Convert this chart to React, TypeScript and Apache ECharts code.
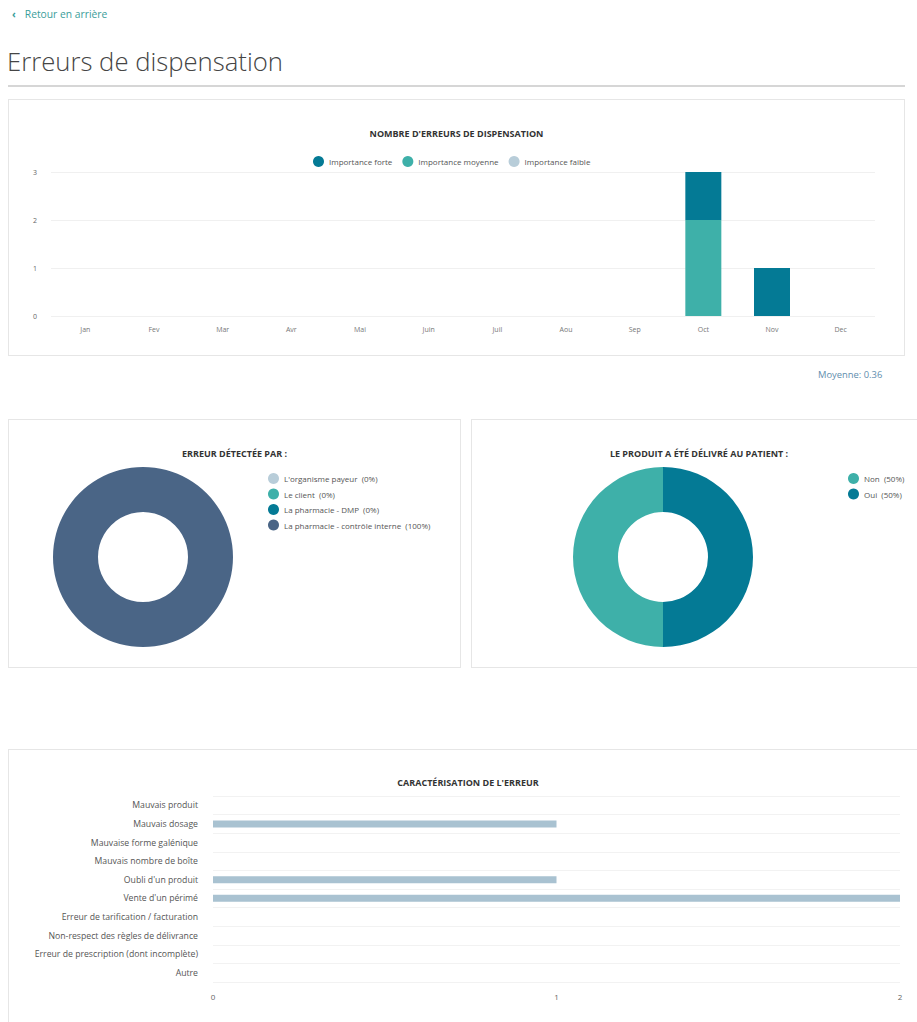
import React, { useEffect, useRef } from "react";
import * as echarts from "echarts";

const months = ["Jan", "Fev", "Mar", "Avr", "Mai", "Juin", "Juil", "Aou", "Sep", "Oct", "Nov", "Dec"];
const forte = [0, 0, 0, 0, 0, 0, 0, 0, 0, 1, 1, 0];
const moyenne = [0, 0, 0, 0, 0, 0, 0, 0, 0, 2, 0, 0];
const faible = [0, 0, 0, 0, 0, 0, 0, 0, 0, 0, 0, 0];
const yTicks = [0, 1, 2, 3];

const detecteurs = ["L'organisme payeur", "Le client", "La pharmacie - DMP", "La pharmacie - contrôle interne"];
const detecteursVals = [0, 0, 0, 1];

const delivre = ["Non", "Oui"];
const delivreVals = [1, 1];

const typesErreur = [
  "Mauvais produit",
  "Mauvais dosage",
  "Mauvaise forme galénique",
  "Mauvais nombre de boîte",
  "Oubli d'un produit",
  "Vente d'un périmé",
  "Erreur de tarification / facturation",
  "Non-respect des règles de délivrance",
  "Erreur de prescription (dont incomplète)",
  "Autre",
];
const typesVals = [0, 1, 0, 0, 1, 2, 0, 0, 0, 0];

const FONT = "'Open Sans', 'Noto Sans', sans-serif";
const C_FORTE = "#047a95";
const C_MOY = "#3eb0a9";
const C_FAIBLE = "#b8cdd9";
const C_SLATE = "#4a6586";

function useChart(option: any) {
  const ref = useRef<HTMLDivElement>(null);
  useEffect(() => {
    if (!ref.current) return;
    const c = echarts.init(ref.current, undefined, { renderer: "svg" });
    c.setOption(option);
    return () => c.dispose();
  }, []);
  return ref;
}

const titleStyle = { fontSize: 9, fontWeight: "bold" as const, color: "#333", fontFamily: FONT };

function BarChart() {
  const ref = useChart({
    animation: false,
    title: { text: "NOMBRE D'ERREURS DE DISPENSATION", left: "center", top: 25, textStyle: titleStyle },
    legend: {
      top: 52,
      left: 300,
      icon: "circle",
      itemWidth: 11,
      itemHeight: 11,
      itemGap: 10,
      textStyle: { fontSize: 8, color: "#555", fontFamily: FONT },
      data: ["Importance forte", "Importance moyenne", "Importance faible"],
    },
    grid: { left: 43, right: 30, top: 73, bottom: 40 },
    xAxis: {
      type: "category",
      data: months,
      axisLine: { show: false },
      axisTick: { show: false },
      axisLabel: { fontSize: 7, color: "#777", margin: 10, fontFamily: FONT },
    },
    yAxis: {
      type: "value",
      min: yTicks[0],
      max: yTicks[yTicks.length - 1],
      interval: 1,
      axisLabel: { fontSize: 7, color: "#666", margin: 14, fontFamily: FONT },
      splitLine: { lineStyle: { color: "#f0f0f0" } },
    },
    series: [
      { name: "Importance faible", type: "bar", stack: "s", data: faible, barWidth: 36, itemStyle: { color: C_FAIBLE } },
      { name: "Importance moyenne", type: "bar", stack: "s", data: moyenne, barWidth: 36, itemStyle: { color: C_MOY } },
      { name: "Importance forte", type: "bar", stack: "s", data: forte, barWidth: 36, itemStyle: { color: C_FORTE } },
    ],
  });
  return <div ref={ref} style={{ width: 897, height: 257 }} />;
}

function pieOption(title: string, names: string[], vals: number[], colors: string[], center: number[], legendLeft: number, clockwise: boolean) {
  const total = vals.reduce((a, b) => a + b, 0);
  return {
    animation: false,
    title: { text: title, left: "center", top: 25, textStyle: titleStyle },
    legend: {
      orient: "vertical",
      left: legendLeft,
      top: 49,
      icon: "circle",
      itemWidth: 11,
      itemHeight: 11,
      itemGap: 4.5,
      textStyle: { fontSize: 8, color: "#555", fontFamily: FONT },
      data: names,
      formatter: (n: string) => {
        const i = names.indexOf(n);
        return `${n}  (${Math.round((vals[i] / total) * 100)}%)`;
      },
    },
    series: [
      {
        type: "pie",
        radius: [45, 90],
        center,
        startAngle: 90,
        clockwise,
        label: { show: false },
        labelLine: { show: false },
        emphasis: { disabled: true },
        data: names.map((n, i) => ({ name: n, value: vals[i], itemStyle: { color: colors[i] } })),
      },
    ],
  };
}

function PieDetecte() {
  const ref = useChart(pieOption("ERREUR DÉTECTÉE PAR :", detecteurs, detecteursVals, [C_FAIBLE, C_MOY, C_FORTE, C_SLATE], [135, 138], 255, true));
  return <div ref={ref} style={{ width: 453, height: 249 }} />;
}

function PieDelivre() {
  const ref = useChart(pieOption("LE PRODUIT A ÉTÉ DÉLIVRÉ AU PATIENT :", delivre, delivreVals, [C_MOY, C_FORTE], [192, 138], 372, false));
  return <div ref={ref} style={{ width: 456, height: 249 }} />;
}

function HBarChart() {
  const ref = useChart({
    animation: false,
    title: { text: "CARACTÉRISATION DE L'ERREUR", left: "center", top: 24, textStyle: titleStyle },
    grid: { left: 205, right: 28, top: 47, height: 186 },
    xAxis: {
      type: "value",
      min: 0,
      max: 2,
      interval: 1,
      axisLabel: { fontSize: 8, color: "#666", margin: 10, fontFamily: FONT },
      splitLine: { show: false },
    },
    yAxis: {
      type: "category",
      inverse: true,
      data: typesErreur,
      axisLine: { show: false },
      axisTick: { show: false },
      axisLabel: { fontSize: 8.7, color: "#555", margin: 15, fontFamily: FONT },
      splitLine: { show: true, lineStyle: { color: "#f2f2f2" } },
    },
    series: [{ type: "bar", data: typesVals, barWidth: 7, itemStyle: { color: "#a9c2d1" } }],
  });
  return <div ref={ref} style={{ width: 920, height: 290 }} />;
}

const panel: React.CSSProperties = {
  position: "absolute",
  border: "1px solid #e6e6e6",
  background: "#fff",
  boxSizing: "border-box",
};

export default function App() {
  return (
    <div style={{ position: "absolute", left: 0, top: 0, width: 917, height: 1022, overflow: "hidden", background: "#fff", fontFamily: FONT }}>
      <div style={{ position: "absolute", left: 12, top: 7, fontSize: 10.3, color: "#3a9d9a" }}>
        <span style={{ fontWeight: "bold", marginRight: 9 }}>‹</span>Retour en arrière
      </div>
      <div style={{ position: "absolute", left: 7, top: 45, fontSize: 25.7, fontWeight: 300, color: "#454545", lineHeight: "34px" }}>
        Erreurs de dispensation
      </div>
      <div style={{ position: "absolute", left: 8, top: 85, width: 897, height: 2, background: "#d6d6d6" }} />

      <div style={{ ...panel, left: 8, top: 99, width: 897, height: 257 }}>
        <div style={{ position: "absolute", left: -1, top: -1 }}>
          <BarChart />
        </div>
      </div>
      <div style={{ position: "absolute", left: 818, top: 368, fontSize: 9.4, color: "#5f8eae" }}>Moyenne: 0.36</div>

      <div style={{ ...panel, left: 8, top: 419, width: 453, height: 249 }}>
        <div style={{ position: "absolute", left: -1, top: -1 }}>
          <PieDetecte />
        </div>
      </div>
      <div style={{ ...panel, left: 471, top: 419, width: 456, height: 249 }}>
        <div style={{ position: "absolute", left: -1, top: -1 }}>
          <PieDelivre />
        </div>
      </div>

      <div style={{ ...panel, left: 8, top: 749, width: 920, height: 290 }}>
        <div style={{ position: "absolute", left: -1, top: -1 }}>
          <HBarChart />
        </div>
      </div>
    </div>
  );
}
